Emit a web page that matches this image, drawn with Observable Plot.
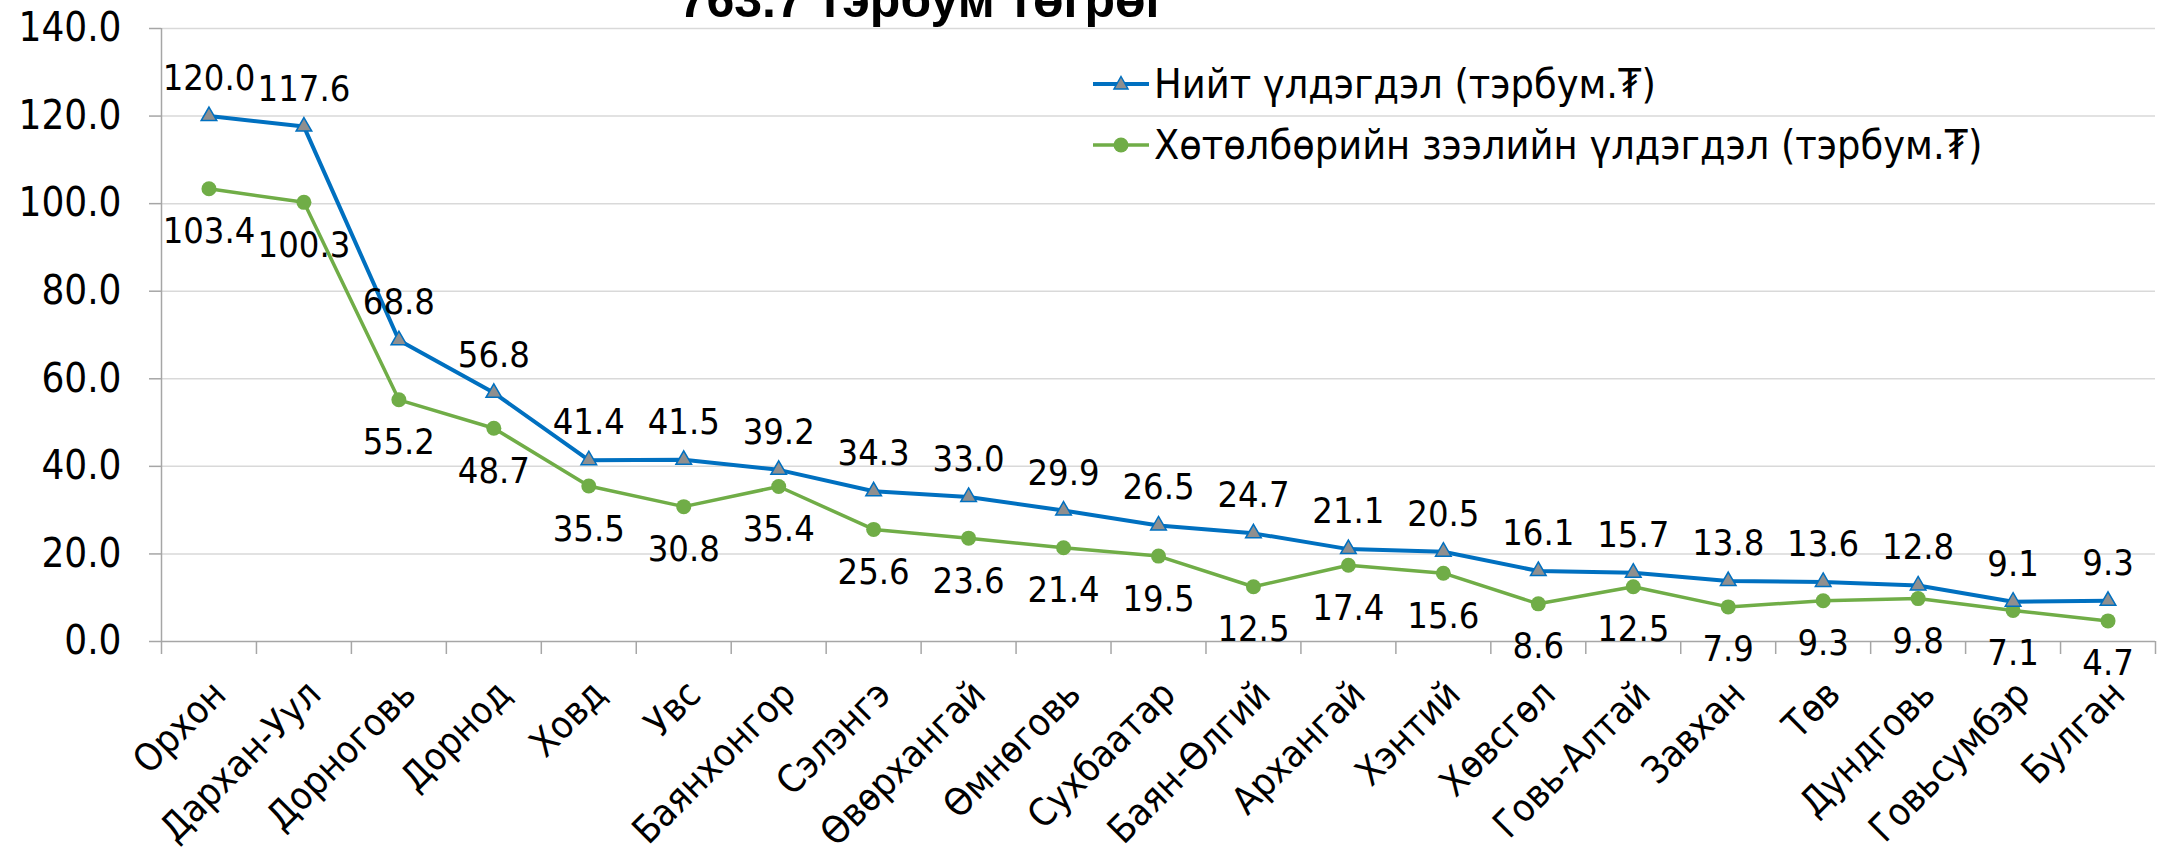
<!DOCTYPE html>
<html>
<head>
<meta charset="utf-8">
<script src="https://cdn.jsdelivr.net/npm/d3@7"></script>
<script src="https://cdn.jsdelivr.net/npm/@observablehq/plot@0.6"></script>
<style>
  html, body { margin: 0; padding: 0; background: white; }
  #wrap { position: relative; width: 2164px; height: 862px; overflow: hidden; }
  #legend { position: absolute; left: 1093px; top: 53px; font-family: "DejaVu Sans Condensed", "DejaVu Sans", sans-serif; font-size: 41px; color: black; }
  #legend .row { display: flex; align-items: center; height: 61px; white-space: nowrap; }
  #legend svg { display: block; margin-right: 5px; }
</style>
</head>
<body>
<div id="wrap"></div>
<script>
const categories = ["Орхон","Дархан-Уул","Дорноговь","Дорнод","Ховд","Увс","Баянхонгор","Сэлэнгэ","Өвөрхангай","Өмнөговь","Сухбаатар","Баян-Өлгий","Архангай","Хэнтий","Хөвсгөл","Говь-Алтай","Завхан","Төв","Дундговь","Говьсумбэр","Булган"];
const totalBalance = [120.0,117.6,68.8,56.8,41.4,41.5,39.2,34.3,33.0,29.9,26.5,24.7,21.1,20.5,16.1,15.7,13.8,13.6,12.8,9.1,9.3];
const programBalance = [103.4,100.3,55.2,48.7,35.5,30.8,35.4,25.6,23.6,21.4,19.5,12.5,17.4,15.6,8.6,12.5,7.9,9.3,9.8,7.1,4.7];
const yTicks = [0,20,40,60,80,100,120,140];
const titleText = "763.7 тэрбум төгрөг";
const seriesNames = ["Нийт үлдэгдэл (тэрбум.₮)", "Хөтөлбөрийн зээлийн үлдэгдэл (тэрбум.₮)"];
const blue = "#0070C0", green = "#70AD47", markerGray = "#8f8f8f";

const rows = categories.map((c, i) => ({i: i + 0.5, c, total: totalBalance[i], program: programBalance[i]}));
const boundaries = d3.range(categories.length + 1);
const font = '"DejaVu Sans Condensed", "DejaVu Sans", sans-serif';

const chart = Plot.plot({
  width: 2164,
  height: 862,
  marginLeft: 161,
  marginRight: 9,
  marginTop: 28,
  marginBottom: 221,
  style: {fontFamily: font, fontSize: "40px", color: "black", background: "white"},
  x: {domain: [0, categories.length], axis: null, label: null},
  y: {domain: [0, 140], axis: null, label: null},
  marks: [
    Plot.gridY(yTicks.filter(d => d > 0), {stroke: "#d9d9d9", strokeOpacity: 1, strokeWidth: 1.5}),
    Plot.axisY({ticks: yTicks, tickFormat: d => d.toFixed(1), tickSize: 12, tickPadding: 28, stroke: "#a6a6a6", strokeWidth: 1.5, fill: "black", fontSize: 40, label: null}),
    Plot.ruleX([0], {stroke: "#a6a6a6", strokeWidth: 1.5}),
    Plot.ruleY([0], {stroke: "#a6a6a6", strokeWidth: 1.5}),
    Plot.axisX({ticks: boundaries, tickSize: 13, tickFormat: () => "", stroke: "#a6a6a6", strokeWidth: 1.5, label: null}),
    Plot.text(rows, {x: "i", frameAnchor: "bottom", text: "c", rotate: -45, textAnchor: "end", lineAnchor: "top", dx: 0, dy: 36, fontSize: 38, fill: "black"}),
    Plot.line(rows, {x: "i", y: "program", stroke: green, strokeWidth: 3.5}),
    Plot.line(rows, {x: "i", y: "total", stroke: blue, strokeWidth: 4}),
    Plot.dot(rows, {x: "i", y: "program", r: 7.5, fill: green, stroke: null}),
    Plot.dot(rows, {x: "i", y: "total", symbol: "triangle", r: 5.8, fill: markerGray, stroke: blue, strokeWidth: 1.5}),
    Plot.text(rows, {x: "i", y: "total", text: d => d.total.toFixed(1), lineAnchor: "bottom", dy: -26, fontSize: 36, fill: "black"}),
    Plot.text(rows, {x: "i", y: "program", text: d => d.program.toFixed(1), lineAnchor: "top", dy: 29, fontSize: 36, fill: "black"}),
    Plot.text([titleText], {frameAnchor: "top", text: d => d, dx: -236, dy: -12, lineAnchor: "bottom", fontFamily: "Liberation Sans, Arial, sans-serif", fontWeight: "bold", fontSize: 50, fill: "black"})
  ]
});

const wrap = document.getElementById("wrap");
wrap.appendChild(chart);

const legend = document.createElement("div");
legend.id = "legend";
const markers = [
  `<svg width="56" height="20"><line x1="0" y1="10" x2="56" y2="10" stroke="${blue}" stroke-width="4"/><path d="M28,2.5 L35,15 L21,15 Z" fill="${markerGray}" stroke="${blue}" stroke-width="1.5"/></svg>`,
  `<svg width="56" height="20"><line x1="0" y1="10" x2="56" y2="10" stroke="${green}" stroke-width="3.5"/><circle cx="28" cy="10" r="7.5" fill="${green}"/></svg>`
];
seriesNames.forEach((name, k) => {
  const row = document.createElement("div");
  row.className = "row";
  row.innerHTML = markers[k];
  const span = document.createElement("span");
  span.textContent = name;
  row.appendChild(span);
  legend.appendChild(row);
});
wrap.appendChild(legend);
</script>
</body>
</html>
